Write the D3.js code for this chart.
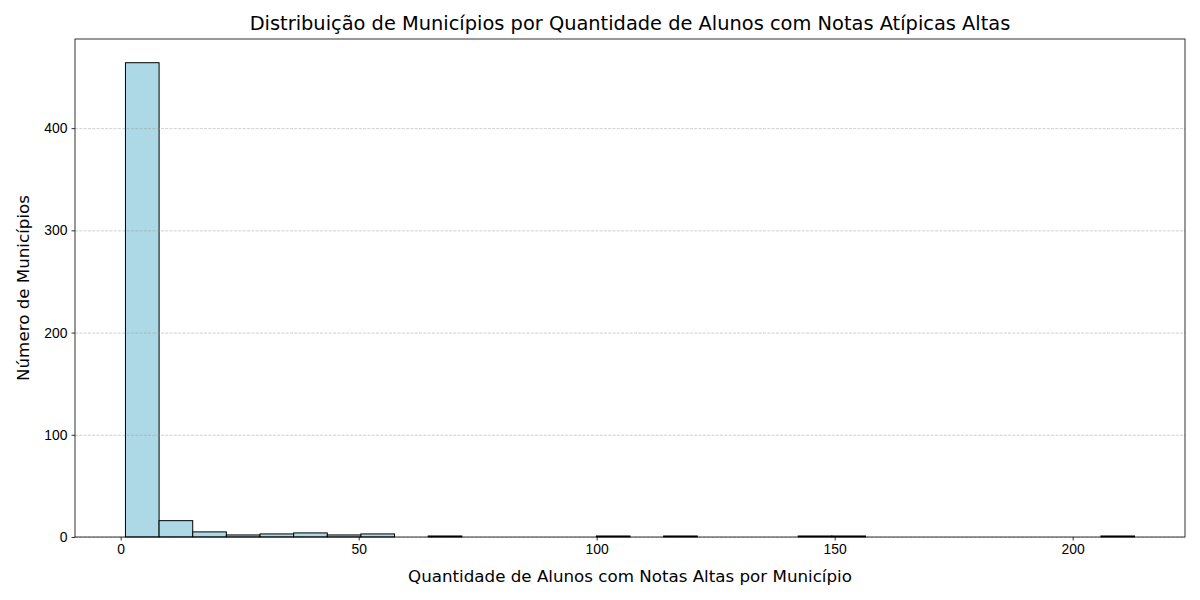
<!DOCTYPE html>
<html>
<head>
<meta charset="utf-8">
<script src="https://cdn.jsdelivr.net/npm/d3@7"></script>
<style>
  body { margin: 0; background: #fff; }
  svg { font-family: "DejaVu Sans", sans-serif; }
  .axis path, .axis line { stroke: #000; stroke-width: 0.8px; }
  .axis text { font-size: 13.9px; fill: #000; }
  .grid line { stroke: #999; stroke-opacity: 0.6; stroke-dasharray: 3, 1.3; stroke-width: 0.8px; }
  .grid path { display: none; }
</style>
</head>
<body>
<script>
// histogram: 30 bins between min and max of the data
var binMin = 1,
    binMax = 213,
    binCount = 30;

// municipalities per bin
var counts = [464, 16, 5, 2, 3, 4, 2, 3, 0, 1,
              0, 0, 0, 0, 1, 0, 1, 0, 0, 0,
              1, 1, 0, 0, 0, 0, 0, 0, 0, 1];

var xTicks = [0, 50, 100, 150, 200],
    yTicks = [0, 100, 200, 300, 400];

var titleText = "Distribuição de Municípios por Quantidade de Alunos com Notas Atípicas Altas",
    xLabel = "Quantidade de Alunos com Notas Altas por Município",
    yLabel = "Número de Municípios";

var margin = {top: 39, right: 15, bottom: 63, left: 75},
    width = 1200 - margin.left - margin.right,
    height = 600 - margin.top - margin.bottom;

var svg = d3.select("body")
    .append("svg")
    .attr("width", 1200)
    .attr("height", 600);

var g = svg.append("g")
    .attr("transform", "translate(" + margin.left + "," + margin.top + ")");

var binW = (binMax - binMin) / binCount;
var bins = counts.map(function(c, i) {
  return {x0: binMin + i * binW, x1: binMin + (i + 1) * binW, n: c};
});

// matplotlib style 5% margins
var pad = (binMax - binMin) * 0.05;
var x = d3.scaleLinear().domain([binMin - pad, binMax + pad]).range([0, width]);
var y = d3.scaleLinear().domain([0, d3.max(counts) * 1.05]).range([height, 0]);

// bars
g.selectAll(".bar")
    .data(bins)
    .enter().append("rect")
    .attr("class", "bar")
    .attr("x", function(d) { return x(d.x0); })
    .attr("width", function(d) { return x(d.x1) - x(d.x0); })
    .attr("y", function(d) { return y(d.n); })
    .attr("height", function(d) { return height - y(d.n); })
    .attr("fill", "#add8e6")
    .attr("stroke", "#000")
    .attr("stroke-width", 1);

// y gridlines on top of the bars
g.append("g")
    .attr("class", "grid")
    .call(d3.axisLeft(y).tickValues(yTicks).tickSize(-width).tickFormat(""));

// frame
g.append("rect")
    .attr("width", width)
    .attr("height", height)
    .attr("fill", "none")
    .attr("stroke", "#000")
    .attr("stroke-width", 0.8);

g.append("g")
    .attr("class", "x axis")
    .attr("transform", "translate(0," + height + ")")
    .call(d3.axisBottom(x).tickValues(xTicks).tickSize(3.5).tickPadding(4).tickFormat(d3.format("d")))
    .call(function(s) { s.select(".domain").remove(); });

g.append("g")
    .attr("class", "y axis")
    .call(d3.axisLeft(y).tickValues(yTicks).tickSize(3.5).tickPadding(4).tickFormat(d3.format("d")))
    .call(function(s) { s.select(".domain").remove(); });

svg.append("text")
    .attr("x", margin.left + width / 2)
    .attr("y", 30)
    .attr("text-anchor", "middle")
    .style("font-size", "19.4px")
    .text(titleText);

svg.append("text")
    .attr("x", margin.left + width / 2)
    .attr("y", 582)
    .attr("text-anchor", "middle")
    .style("font-size", "16.7px")
    .text(xLabel);

svg.append("text")
    .attr("transform", "translate(29," + (margin.top + height / 2) + ") rotate(-90)")
    .attr("text-anchor", "middle")
    .style("font-size", "16.7px")
    .text(yLabel);
</script>
</body>
</html>
